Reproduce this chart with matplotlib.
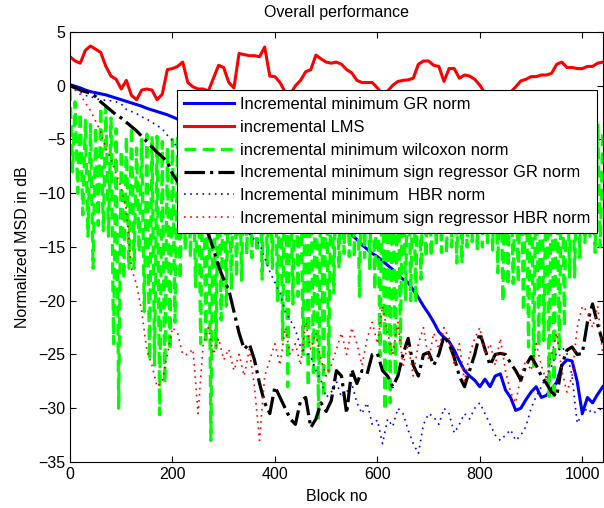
import numpy as np
import matplotlib
matplotlib.use("Agg")
import matplotlib.pyplot as plt

plt.rcParams['font.family'] = ['Liberation Sans', 'DejaVu Sans']

# block positions (every 10 blocks)
blocks = np.arange(0, 1041, 10)

gr_norm = [0.1, -0.05, -0.2, -0.4, -0.55, -0.65, -0.75, -0.85, -1.0, -1.15,
           -1.3, -1.45, -1.6, -1.75, -1.9, -2.1, -2.25, -2.4, -2.55, -2.7,
           -2.9, -3.1, -3.35, -3.6, -3.9, -4.1, -4.4, -4.7, -5.0, -5.3,
           -5.6, -5.9, -6.2, -6.5, -6.8, -7.1, -7.4, -7.7, -8.0, -8.3,
           -8.6, -8.9, -9.2, -9.5, -9.8, -10.1, -10.5, -10.8, -11.1, -11.5,
           -11.8, -12.2, -12.6, -13.0, -13.4, -13.9, -14.3, -14.8, -15.2, -15.6,
           -15.9, -16.3, -16.7, -17.1, -17.6, -18.0, -18.3, -19.0, -19.7, -20.5,
           -21.2, -22.0, -22.9, -23.4, -23.8, -24.6, -25.6, -26.5, -27.0, -27.4,
           -28.0, -27.3, -28.0, -27.0, -26.8, -28.3, -29.0, -30.2, -30.0, -29.2,
           -28.5, -28.0, -29.0, -28.8, -28.2, -27.6, -26.0, -25.5, -25.6, -27.5,
           -30.5, -29.0, -29.5, -28.7, -28.0]

lms = [2.7, 2.3, 2.1, 3.3, 3.7, 3.4, 3.1, 1.8, 0.9, 0.6,
       -0.3, 0.5, -0.9, -1.3, -0.4, -0.3, -0.4, -1.3, -0.8, 1.5,
       1.6, 1.8, 2.2, 0.3, -0.1, -0.3, -0.3, -0.5, 0.7, 1.9,
       1.7, 0.3, -0.2, 3.0, 2.9, 2.8, 2.8, 2.7, 3.6, 0.9,
       0.85, 0.3, -0.6, -0.8, 0.0, 0.5, 1.3, 1.5, 2.85, 2.5,
       2.2, 2.1, 2.2, 2.0, 1.5, 1.2, 0.5, 0.3, 0.3, 0.3,
       -0.2, -0.8, -0.5, 0.05, 0.4, 0.5, 0.55, 0.7, 2.0, 2.3,
       2.3, 1.9, 1.8, 0.4, 1.6, 1.6, 0.7, 1.0, 0.9, 0.6,
       0.05, -0.7, -1.2, -1.5, -1.3, -1.0, -0.6, -0.1, 0.45, 0.6,
       0.85, 0.85, 1.0, 1.0, 1.15, 2.0, 2.2, 1.7, 1.7, 1.6,
       1.6, 1.8, 1.8, 2.1, 2.2]

# wilcoxon norm: upper turning points (blocks 0,10,...) and lower turning points (blocks 5,15,...)
wil_top = [-0.3, -1.5, -2.5, -3.2, -3.6, -3.8, -2.0, -1.9, -3.0, -4.0,
           -6.0, -4.7, -3.8, -5.8, -5.0, -4.5, -4.7, -4.7, -5.2, -5.7,
           -5.0, -4.5, -5.5, -4.0, -6.0, -5.0, -4.2, -5.8, -4.6, -5.2,
           -3.9, -6.1, -4.8, -5.4, -4.1, -5.9, -4.4, -5.1, -3.8, -6.2,
           -4.9, -5.3, -4.0, -5.7, -4.5, -6.0, -4.3, -5.0, -3.7, -5.6,
           -4.7, -5.2, -4.1, -6.3, -4.8, -5.5, -3.9, -5.0, -4.4, -6.0,
           -4.6, -5.3, -4.0, -5.8, -4.9, -5.1, -3.8, -5.9, -4.5, -5.4,
           -4.2, -6.1, -4.7, -5.0, -3.9, -5.6, -4.8, -5.2, -4.0, -6.0,
           -4.4, -5.3, -4.1, -5.7, -4.6, -5.0, -3.8, -5.9, -4.5, -5.2,
           -4.3, -6.0, -4.7, -5.4, -4.0, -5.6, -4.9, -5.1, -3.9, -5.8,
           -4.4, -5.0, -4.1, -3.5, -4.0]
wil_bottom = [-8, -10, -12, -14, -17, -13, -13.5, -14, -24, -30,
              -18, -17, -17, -15.5, -21, -25.5, -26, -30.6, -27.7, -24.6,
              -22, -18, -15.3, -16, -18.7, -24, -24, -33, -24.4, -21.8,
              -20.5, -19, -17.8, -18.1, -15.7, -16, -15.5, -18, -16.6, -17,
              -20, -23.6, -28, -20.3, -19.6, -25, -28, -26.7, -31.1, -29,
              -26.6, -19.3, -17, -15.6, -15.9, -16, -19.6, -16, -17, -19,
              -25.2, -30.2, -29.5, -27, -24, -19.9, -20, -20.2, -18, -16,
              -15.9, -15, -15.5, -15.6, -15, -16.5, -16.5, -15, -14.5, -15.3,
              -15, -14.8, -15.3, -17.4, -20.1, -18.6, -18.4, -18.3, -21, -24.3,
              -26.1, -24.3, -23.7, -28.9, -29.2, -24.6, -22.4, -17.8, -17.8, -16,
              -14.6, -14, -15.5, -15]

sign_gr = [0.0, -0.2, -0.4, -0.55, -0.7, -1.0, -1.5, -1.9, -2.3, -2.7,
           -3.0, -3.4, -3.8, -4.2, -4.7, -5.2, -5.7, -6.2, -6.6, -7.1,
           -8.2, -8.9, -9.6, -10.3, -11.0, -11.8, -12.7, -13.8, -15.2, -16.8,
           -18.0, -19.0, -21.0, -23.0, -24.5, -24.0, -25.5, -27.7, -29.5, -30.5,
           -28.0, -29.0, -30.0, -31.0, -31.5, -29.3, -29.0, -31.8, -31.0, -29.5,
           -30.3, -29.3, -26.5, -27.0, -30.5, -26.4, -27.7, -26.5, -26.8, -25.0,
           -24.9, -26.5, -27.0, -28.0, -27.0, -25.0, -23.5, -26.0, -27.0, -25.0,
           -24.8, -26.0, -25.0, -23.3, -24.0, -25.3, -27.0, -28.0, -26.5, -25.0,
           -23.0, -24.5, -26.0, -25.0, -24.9, -25.0, -25.8, -26.5, -27.4, -26.0,
           -25.2, -26.0, -27.0, -27.7, -28.5, -28.9, -26.0, -24.6, -24.3, -25.0,
           -24.9, -22.0, -20.3, -22.2, -23.9]

hbr = [0.0, -0.3, -0.6, -0.9, -1.0, -1.2, -1.3, -1.35, -1.4, -1.5,
       -1.7, -2.2, -2.4, -2.6, -2.9, -3.1, -3.4, -3.7, -4.0, -4.6,
       -5.1, -5.8, -6.2, -6.6, -7.0, -7.5, -8.0, -8.5, -9.0, -9.6,
       -10.3, -11.0, -11.6, -12.3, -13.0, -13.8, -14.3, -14.7, -16.0, -17.3,
       -18.3, -19.3, -21.0, -21.8, -22.7, -24.3, -24.8, -25.2, -26.5, -27.4,
       -29.0, -28.5, -27.5, -29.0, -28.5, -27.7, -29.5, -30.5, -29.5, -31.5,
       -31.1, -33.3, -31.0, -31.7, -30.0, -30.5, -32.0, -33.3, -34.2, -31.5,
       -30.5, -30.8, -31.5, -30.0, -30.5, -32.3, -31.5, -30.5, -31.0, -30.0,
       -29.5, -30.5, -31.5, -32.5, -33.0, -32.5, -32.0, -33.0, -32.5, -31.7,
       -30.0, -28.9, -28.0, -27.0, -26.1, -24.8, -24.3, -24.9, -27.0, -31.4,
       -30.5, -30.0, -30.5, -30.2, -30.0]

sign_hbr = [0.0, -0.4, -0.8, -1.6, -2.3, -3.3, -4.3, -5.8, -6.8, -8.2,
            -9.5, -11.5, -17.0, -18.5, -21.0, -24.6, -26.0, -28.0, -27.5, -25.0,
            -22.5, -23.0, -25.0, -25.0, -24.5, -30.5, -24.0, -22.5, -25.0, -23.5,
            -25.5, -24.5, -26.5, -25.0, -27.0, -24.5, -28.0, -33.0, -27.0, -25.5,
            -24.0, -26.0, -22.5, -25.0, -24.0, -26.0, -22.0, -24.5, -23.0, -25.5,
            -27.0, -26.0, -24.5, -23.0, -25.0, -22.5, -24.0, -26.0, -23.5, -22.0,
            -24.0, -20.5, -23.0, -25.0, -22.0, -26.0, -24.0, -27.0, -24.0, -22.5,
            -25.5, -23.0, -24.5, -22.5, -23.5, -26.0, -24.0, -27.5, -25.0, -23.5,
            -22.5, -25.0, -24.0, -26.0, -23.5, -26.5, -28.5, -29.5, -27.0, -25.5,
            -26.5, -24.0, -26.0, -27.5, -25.0, -23.0, -26.5, -28.5, -27.0, -22.5,
            -20.5, -21.0, -22.5, -20.5, -25.0]

labels = ['Incremental minimum GR norm',
          'incremental LMS',
          'incremental minimum wilcoxon norm',
          'Incremental minimum sign regressor GR norm',
          'Incremental minimum  HBR norm',
          'Incremental minimum sign regressor HBR norm']

# interleave the wilcoxon turning points
wil_x = np.empty(len(wil_top) + len(wil_bottom))
wil_y = np.empty(len(wil_top) + len(wil_bottom))
wil_x[0::2] = blocks
wil_x[1::2] = blocks[:-1] + 5
wil_y[0::2] = wil_top
wil_y[1::2] = wil_bottom

fig = plt.figure(figsize=(6.04, 5.08), dpi=100)
ax = fig.add_axes([0.1159, 0.0906, 0.8821, 0.8464])

ax.plot(blocks, gr_norm, color='#0000ff', lw=2.2, ls='-', label=labels[0])
ax.plot(blocks, lms, color='#ff0000', lw=2.2, ls='-', label=labels[1])
ax.plot(wil_x, wil_y, color='#00ff00', lw=2.3, ls=(0, (3.7, 2.0)), label=labels[2])
ax.plot(blocks, sign_gr, color='black', lw=2.3, ls='-.', label=labels[3])
ax.plot(blocks, hbr, color='#0000ff', lw=1.2, ls=(0, (1, 2.7)), label=labels[4])
ax.plot(blocks, sign_hbr, color='#ff0000', lw=1.2, ls=(0, (1, 2.7)), label=labels[5])

ax.set_xlim(0, 1040)
ax.set_ylim(-35, 5)
ax.set_xticks([0, 200, 400, 600, 800, 1000])
ax.set_yticks([-35, -30, -25, -20, -15, -10, -5, 0, 5])
ax.tick_params(direction='in', top=True, right=True, length=4, labelsize=11.5, width=0.8)
for s in ax.spines.values():
    s.set_linewidth(0.8)

ax.set_title('Overall performance', fontsize=11.5, pad=11)
ax.set_xlabel('Block no', fontsize=11.5, labelpad=5)
ax.set_ylabel('Normalized MSD in dB', fontsize=11.5, labelpad=6)

leg = ax.legend(loc='upper left', bbox_to_anchor=(0.2, 0.866), borderaxespad=0,
                fontsize=11.9, fancybox=False, framealpha=1, edgecolor='black',
                handlelength=3.0, handletextpad=0.36, labelspacing=0.47,
                borderpad=0.45)
leg.get_frame().set_linewidth(0.8)

fig.savefig('out.png', dpi=100)
